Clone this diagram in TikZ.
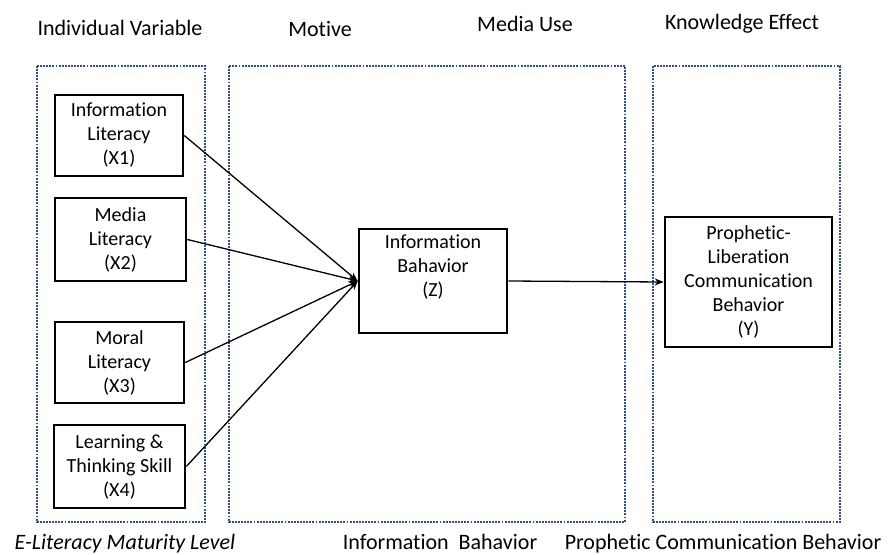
\documentclass[tikz,border=0pt]{standalone}
\usepackage{fontspec}
\setmainfont{Carlito}[Ligatures=NoCommon]
\usetikzlibrary{arrows.meta}
\definecolor{dotblue}{RGB}{48,78,128}
\begin{document}
\begin{tikzpicture}[x=1pt,y=-1pt,
  group/.style={draw=dotblue,line width=2.5pt,dash pattern=on 1.9pt off 1.2pt},
  varbox/.style={draw=black,line width=2.6pt,align=center,inner sep=2pt,
    font=\fontsize{20}{24}\selectfont},
  title/.style={anchor=base,font=\fontsize{22}{26}\selectfont},
  conn/.style={line width=1.3pt,-{Stealth[length=9pt,width=7pt]}}]
\useasboundingbox (0,0) rectangle (890,554);
% group frames
\draw[group] (37,66) rectangle (205,522);
\draw[group] (229,66) rectangle (625,522);
\draw[group] (653,66) rectangle (840,522);
% titles
\node[title] (t1) at (120,35) {Individual Variable};
\node[title] (t2) at (320,36) {Motive};
\node[title] (t3) at (525,31) {Media Use};
\node[title] (t4) at (742,29) {Knowledge Effect};
\node[title] (b1) at (125,549) {\itshape E-Literacy Maturity Level};
\node[title] (b2) at (440,549) {Information\ \ Bahavior};
\node[title] (b3) at (723,549) {Prophetic Communication Behavior};
% variable boxes
\node[varbox,minimum width=128,minimum height=81] (X1) at (119,135.5) {Information\\Literacy\\(X1)};
\node[varbox,minimum width=131,minimum height=83] (X2) at (120.5,239.5) {Media\\Literacy\\(X2)};
\node[varbox,minimum width=129,minimum height=81] (X3) at (119.5,362.5) {Moral\\Literacy\\(X3)};
\node[varbox,minimum width=131,minimum height=83] (X4) at (119.5,466.5) {Learning \&\\Thinking Skill\\(X4)};
\node[varbox,minimum width=148,minimum height=104] (Z) at (433,281) {Information\\Bahavior\\(Z)\\\strut};
\node[varbox,minimum width=167,minimum height=130] (Y) at (748.5,282) {Prophetic-\\Liberation\\Communication\\Behavior\\(Y)};
% connectors
\draw[conn] (X1.east) -- (Z.west);
\draw[conn] (X2.east) -- (Z.west);
\draw[conn] (X3.east) -- (Z.west);
\draw[conn] (X4.east) -- (Z.west);
\draw[conn] (Z.east) -- (Y.west);
\end{tikzpicture}
\end{document}
